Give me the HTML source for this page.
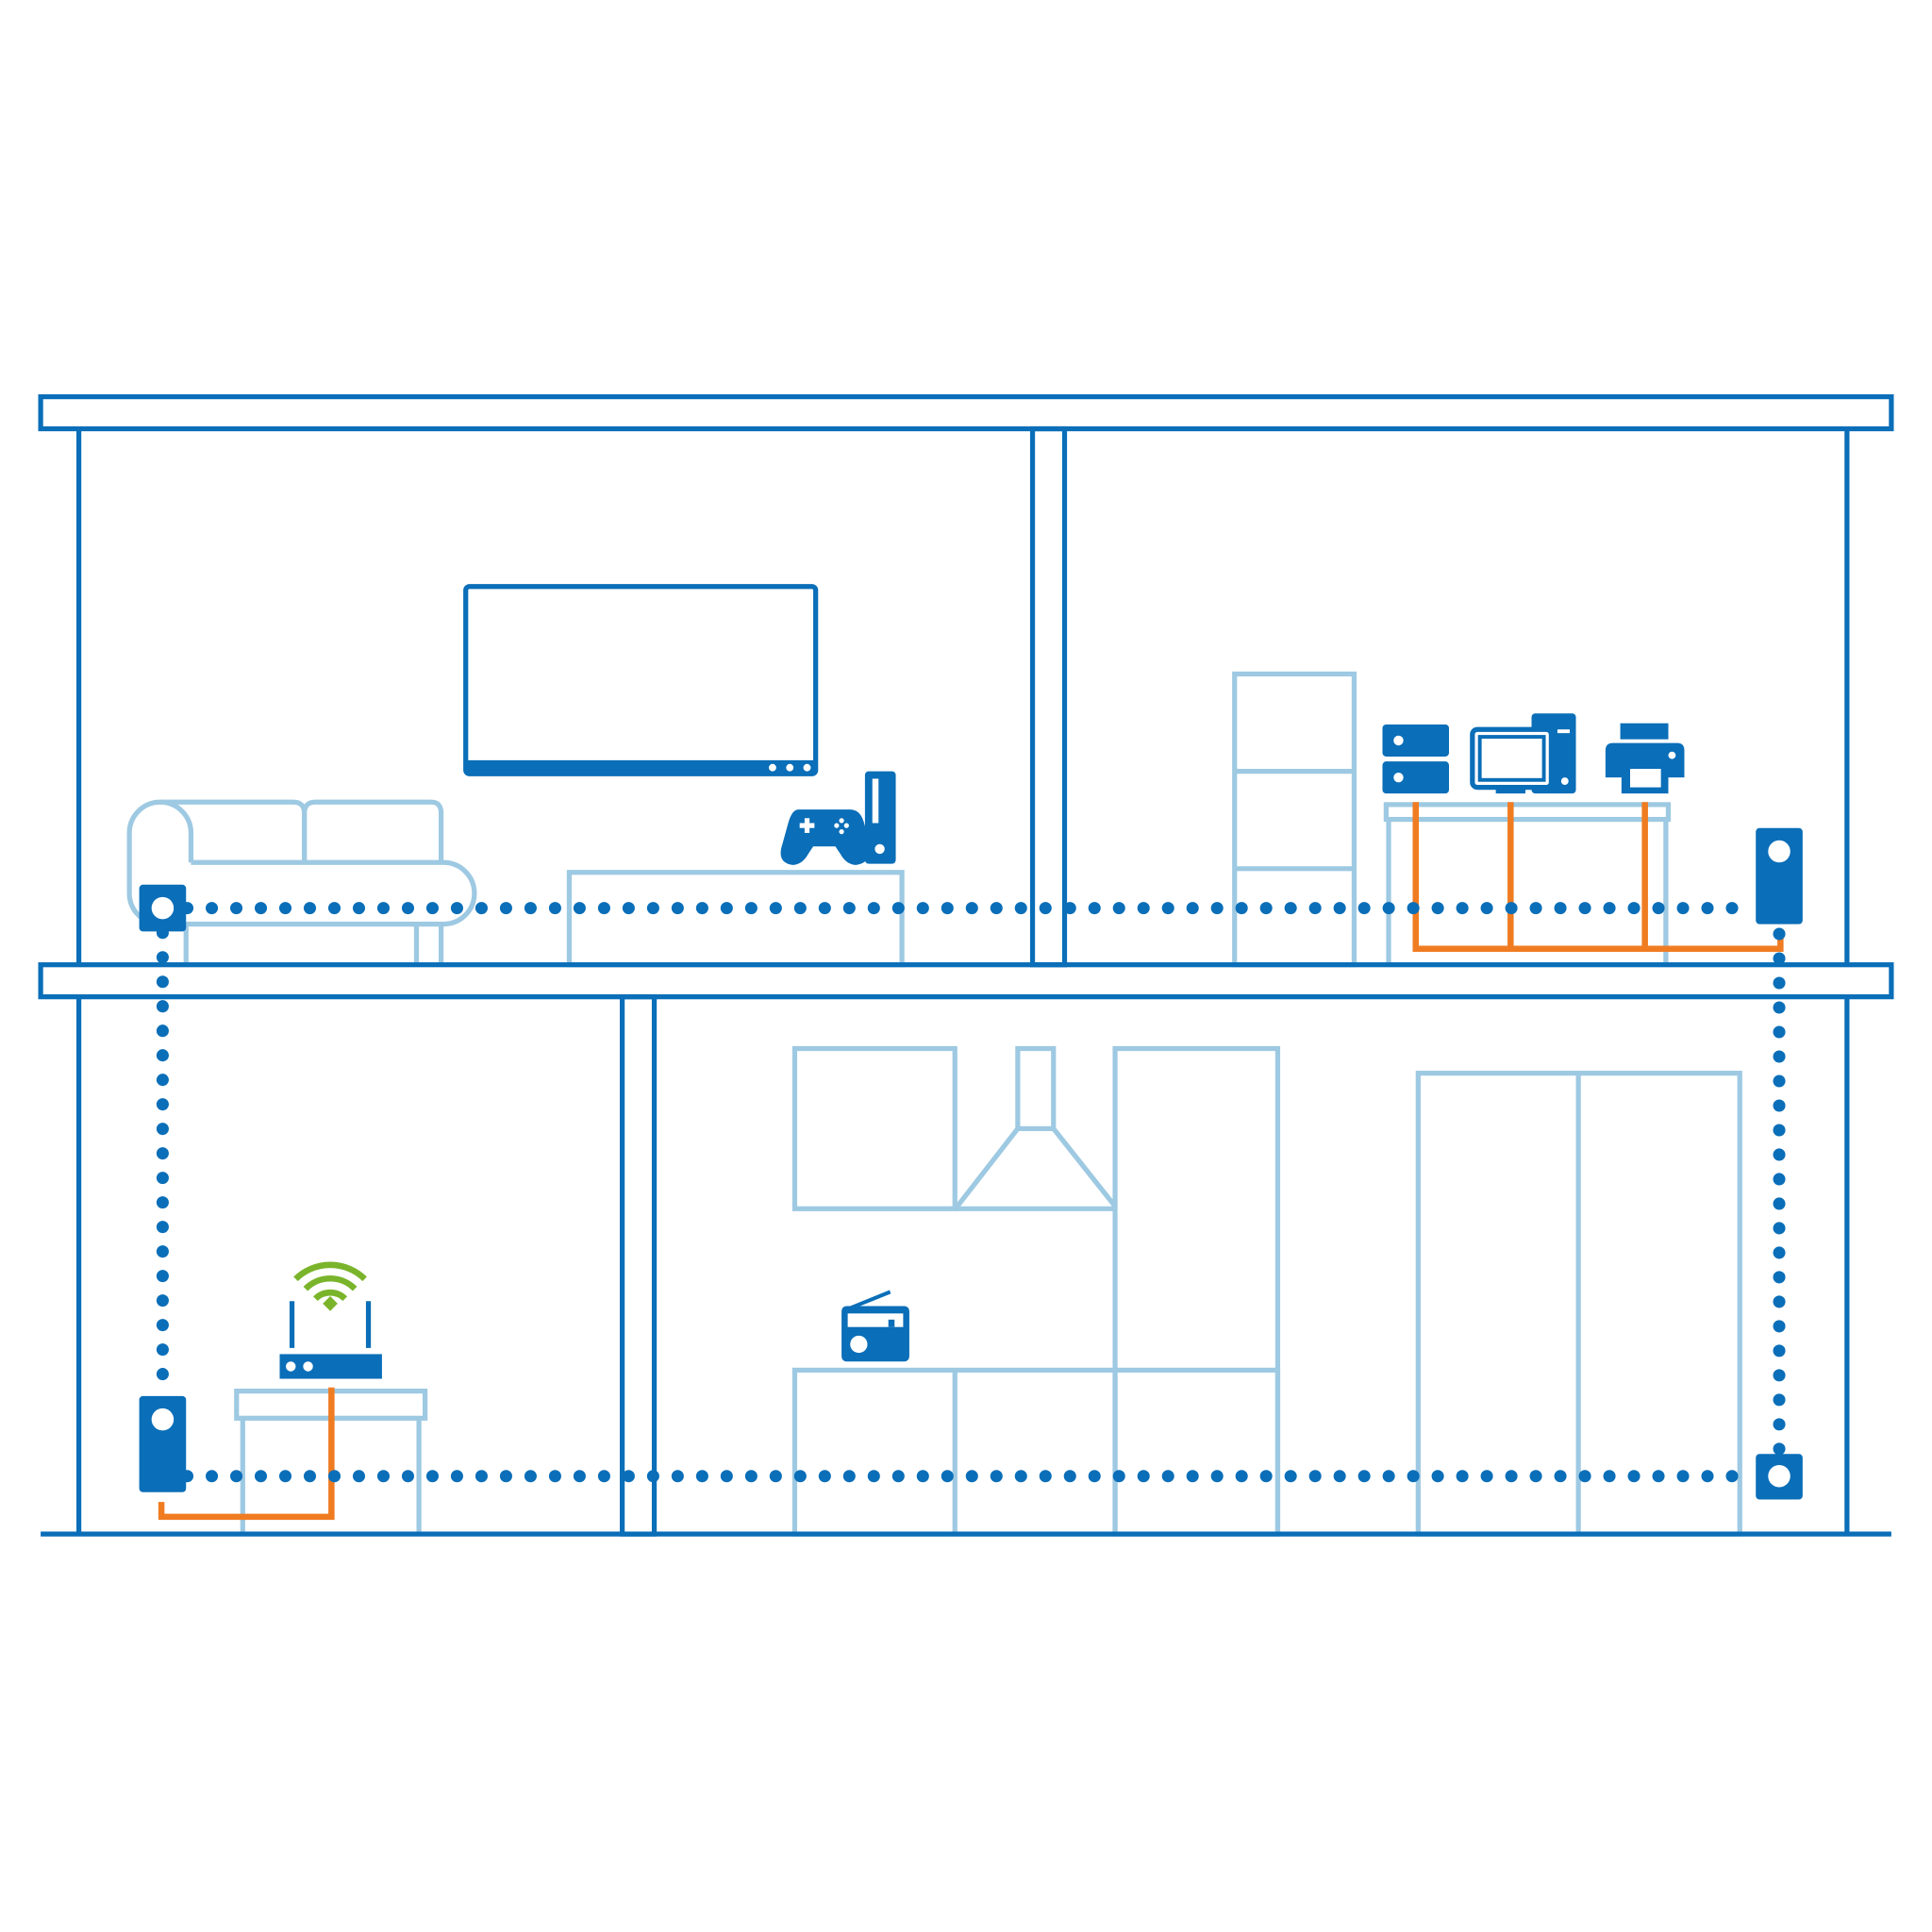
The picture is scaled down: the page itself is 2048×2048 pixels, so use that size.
<!DOCTYPE html>
<html><head><meta charset="utf-8"><style>html,body{margin:0;padding:0;background:#fff}svg{display:block}</style></head>
<body>
<svg width="2048" height="2048" viewBox="0 0 1568 1568" xmlns="http://www.w3.org/2000/svg">
<g fill="none" stroke="#9ec9e2" stroke-width="4">
<!-- sofa -->
<path d="M130 651 H238 Q247 651 247 660 V700"/>
<path d="M247 700 V660 Q247 651 256 651 H350 Q358 651 358 660 V700"/>
<path d="M155 700 V676 A25 25 0 0 0 105 676 V725 A25 25 0 0 0 130 750 H360 A25 25 0 0 0 360 700 H155"/>
<path d="M151 750 V783 M338 750 V783 M358 750 V783"/>
<rect x="462" y="708" width="270" height="75"/>
<!-- bookshelf -->
<rect x="1002" y="547" width="97" height="236"/>
<path d="M1002 626 H1099 M1002 705 H1099"/>
<!-- desk -->
<rect x="1125" y="653" width="229" height="12"/>
<path d="M1127 665 V783 M1352 665 V783"/>
<!-- kitchen -->
<rect x="645" y="851" width="130" height="130"/>
<path d="M775 981 H905"/>
<rect x="826" y="851" width="29" height="65"/>
<path d="M826 916 L777 979 M855 916 L905 979"/>
<rect x="905" y="851" width="132" height="394"/>
<rect x="645" y="1112" width="392" height="133"/>
<path d="M775 1112 V1245 M905 1112 V1245"/>
<rect x="1151" y="871" width="261" height="374"/>
<path d="M1281 871 V1245"/>
<!-- table -->
<rect x="192" y="1129" width="153" height="22"/>
<path d="M197 1151 V1245 M340 1151 V1245"/>
</g>
<!-- house -->
<g fill="none" stroke="#0a6eb8" stroke-width="4">
<rect x="33" y="322" width="1502" height="26"/>
<rect x="33" y="783" width="1502" height="26"/>
<path d="M64 348 V783 M1499 348 V783 M64 809 V1245 M1499 809 V1245 M33 1245 H1535"/>
<rect x="838" y="348" width="26" height="435"/>
<rect x="505" y="809" width="26" height="436"/>
<rect x="378" y="476" width="284" height="152" rx="3"/>
</g>
<rect x="378" y="617" width="284" height="11" fill="#0a6eb8"/>
<g fill="#fff"><circle cx="627" cy="623" r="3"/><circle cx="641" cy="623" r="3"/><circle cx="655" cy="623" r="3"/></g>
<!-- orange -->
<g fill="none" stroke="#f07c22" stroke-width="5">
<path d="M1149 651 V770 H1445 V758 M1226 651 V770 M1335 651 V770"/>
<path d="M131 1219 V1231 H269 V1126"/>
</g>
<!-- dotted -->
<g fill="none" stroke="#0a6eb8" stroke-width="10" stroke-linecap="round" stroke-dasharray="0 19.9">
<path d="M152 737 H1425"/>
<path d="M152 1198 H1425"/>
<path d="M132 757 V1120"/>
<path d="M1444 758 V1180"/>
</g>
<g fill="#0a6eb8">
<!-- adapters -->
<rect x="113" y="718" width="38" height="38" rx="3"/>
<rect x="1425" y="672" width="38" height="78" rx="3"/>
<rect x="113" y="1133" width="38" height="78" rx="3"/>
<rect x="1425" y="1180" width="38" height="37" rx="3"/>
<!-- router -->
<rect x="227" y="1099" width="83" height="20"/>
<rect x="235" y="1056" width="4" height="38"/><rect x="297" y="1056" width="4" height="38"/>
<!-- console -->
<rect x="702" y="626" width="25" height="75" rx="3"/>
<path d="M648 657 H690 Q698 657 701 667 L706 685 Q708 700 695 702 Q687 702 682 693 L678 687 H660 L656 693 Q651 702 643 702 Q630 700 635 685 L640 667 Q643 657 648 657Z"/>
<!-- servers -->
<rect x="1122" y="588" width="54" height="26" rx="3"/><rect x="1122" y="618" width="54" height="26" rx="3"/>
<rect x="1243" y="579" width="36" height="65" rx="3"/>
<rect x="1214" y="636" width="24" height="8"/>
<!-- printer -->
<rect x="1315" y="587" width="39" height="13"/>
<path d="M1309 603 H1361 Q1367 603 1367 609 V631 H1303 V609 Q1303 603 1309 603Z"/>
<rect x="1316" y="620" width="38" height="24"/>
<!-- radio -->
<rect x="683" y="1060" width="55" height="45" rx="4"/>
<path d="M685 1062 L722 1047 L723 1050 L688 1064Z"/>
</g>
<g fill="#fff">
<circle cx="132" cy="737" r="9"/><circle cx="1444" cy="691" r="9"/><circle cx="132" cy="1152" r="9"/><circle cx="1444" cy="1198" r="9"/>
<circle cx="236" cy="1109" r="4"/><circle cx="250" cy="1109" r="4"/>
<rect x="708" y="632" width="5" height="36"/><circle cx="714" cy="689" r="4"/>
<rect x="653" y="664" width="4" height="12"/><rect x="649" y="668" width="12" height="4"/>
<circle cx="683" cy="666" r="2"/><circle cx="683" cy="675" r="2"/><circle cx="679" cy="670" r="2"/><circle cx="687" cy="670" r="2"/>
<circle cx="1135" cy="601" r="4"/><circle cx="1135" cy="631" r="4"/>
<rect x="1195" y="592" width="64" height="47" rx="4"/>
<circle cx="1270" cy="634" r="3"/>
<rect x="1323" y="624" width="25" height="15"/><circle cx="1357" cy="613" r="3"/>
<rect x="688" y="1066" width="45" height="11"/><circle cx="697" cy="1091" r="7"/>
</g>
<rect x="1195" y="592" width="64" height="47" rx="4" fill="none" stroke="#0a6eb8" stroke-width="4"/>
<rect x="1201" y="598" width="52" height="35" fill="#fff" stroke="#0a6eb8" stroke-width="3"/>
<rect x="1264" y="592" width="10" height="3" fill="#fff"/>
<rect x="721" y="1071" width="5" height="6" fill="#0a6eb8"/>
<!-- wifi -->
<g fill="none" stroke="#7ab42b" stroke-width="5">
<path d="M240 1038 A40 40 0 0 1 296 1038"/>
<path d="M248 1046 A28 28 0 0 1 288 1046"/>
<path d="M256 1054 A17 17 0 0 1 280 1054"/>
</g>
<path d="M262 1058 L268 1052 L274 1058 L268 1064Z" fill="#7ab42b"/>
</svg>
</body></html>
